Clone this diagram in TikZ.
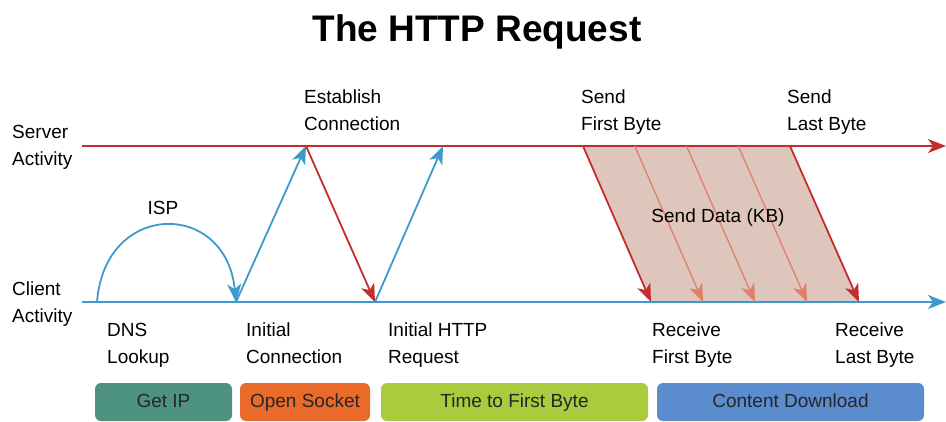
\documentclass[tikz,border=0pt]{standalone}
\usepackage{fontspec}
\setmainfont{Liberation Sans}
\usetikzlibrary{arrows.meta,calc}
\definecolor{srvred}{RGB}{196,45,45}
\definecolor{cliblue}{RGB}{62,154,204}
\definecolor{palered}{RGB}{222,128,106}
\definecolor{datafill}{RGB}{223,198,188}
\definecolor{ipteal}{RGB}{78,146,130}
\definecolor{sockorange}{RGB}{234,106,42}
\definecolor{ttfblime}{RGB}{168,204,62}
\definecolor{dlblue}{RGB}{90,140,206}
\tikzset{
  lbl/.style={align=left,anchor=north west,inner sep=0pt,font=\fontsize{19}{27}\selectfont},
  phase/.style={rounded corners=6pt,inner sep=0pt,text height=13pt,text depth=2pt,minimum height=38pt,font=\fontsize{19}{23}\selectfont,text=black!85},
  tip/.style={-{Stealth[length=18pt,width=14pt,inset=5pt]}},
}
\begin{document}
\begin{tikzpicture}[x=1pt,y=-1pt]
	\useasboundingbox (0,0) rectangle (946,421);
	% title
	\node[inner sep=0pt,font=\bfseries\fontsize{37}{40}\selectfont] (title) at (477,32) {The HTTP Request};
	% time lines
	\coordinate (s0) at (82,146); \coordinate (s1) at (946,146);
	\coordinate (c0) at (82,302); \coordinate (c1) at (946,302);
	\coordinate (dns) at (97,302); \coordinate (ic) at (236,302); \coordinate (ec) at (306,146);
	\coordinate (ihr) at (375,302); \coordinate (srq) at (443,146);
	\coordinate (sfb) at (583,146); \coordinate (slb) at (790,146);
	\coordinate (rfb) at (651,302); \coordinate (rlb) at (859,302);
	% data block
	\fill[datafill] (sfb) -- (slb) -- (rlb) -- (rfb) -- cycle;
	\draw[srvred,line width=1.8pt,tip] (s0) -- (s1);
	\draw[cliblue,line width=1.8pt,tip] (c0) -- (c1);
	\draw[cliblue,line width=1.8pt,tip] (dns) .. controls (105,200) and (226,200) .. (ic);
	\draw[cliblue,line width=1.8pt,tip] (ic) -- (ec);
	\draw[srvred,line width=1.8pt,tip] (ec) -- (ihr);
	\draw[cliblue,line width=1.8pt,tip] (ihr) -- (srq);
	\foreach \i in {1,2,3} \draw[palered,line width=1.3pt,tip] ($(sfb)!\i/4!(slb)$) -- ($(rfb)!\i/4!(rlb)$);
	\draw[srvred,line width=1.8pt,tip] (sfb) -- (rfb);
	\draw[srvred,line width=1.8pt,tip] (slb) -- (rlb);
	% labels
	\node[lbl] (server) at (12,125) {Server\\Activity}; \node[lbl] (client) at (12,282) {Client\\Activity};
	\node[lbl] (establish) at (304,90) {Establish\\Connection};
	\node[lbl] (sendfirst) at (581,90) {Send\\First Byte}; \node[lbl] (sendlast) at (787,90) {Send\\Last Byte};
	\node[inner sep=0pt,font=\fontsize{19}{24}\selectfont] (isp) at (163,208) {ISP};
	\node[inner sep=0pt,font=\fontsize{19}{24}\selectfont] (senddata) at (718,218) {Send Data (KB)};
	\node[lbl] (dnslookup) at (107,323) {DNS\\Lookup}; \node[lbl] (initconn) at (246,323) {Initial\\Connection};
	\node[lbl] (inithttp) at (388,323) {Initial HTTP\\Request};
	\node[lbl] (recvfirst) at (652,323) {Receive\\First Byte}; \node[lbl] (recvlast) at (835,323) {Receive\\Last Byte};
	% phases
	\node[phase,fill=ipteal,minimum width=137pt] (getip) at (163.5,402) {Get IP};
	\node[phase,fill=sockorange,minimum width=130pt] (opensock) at (305,402) {Open Socket};
	\node[phase,fill=ttfblime,minimum width=267pt] (ttfb) at (514.5,402) {Time to First Byte};
	\node[phase,fill=dlblue,minimum width=267pt] (download) at (790.5,402) {Content Download};
\end{tikzpicture}
\end{document}
